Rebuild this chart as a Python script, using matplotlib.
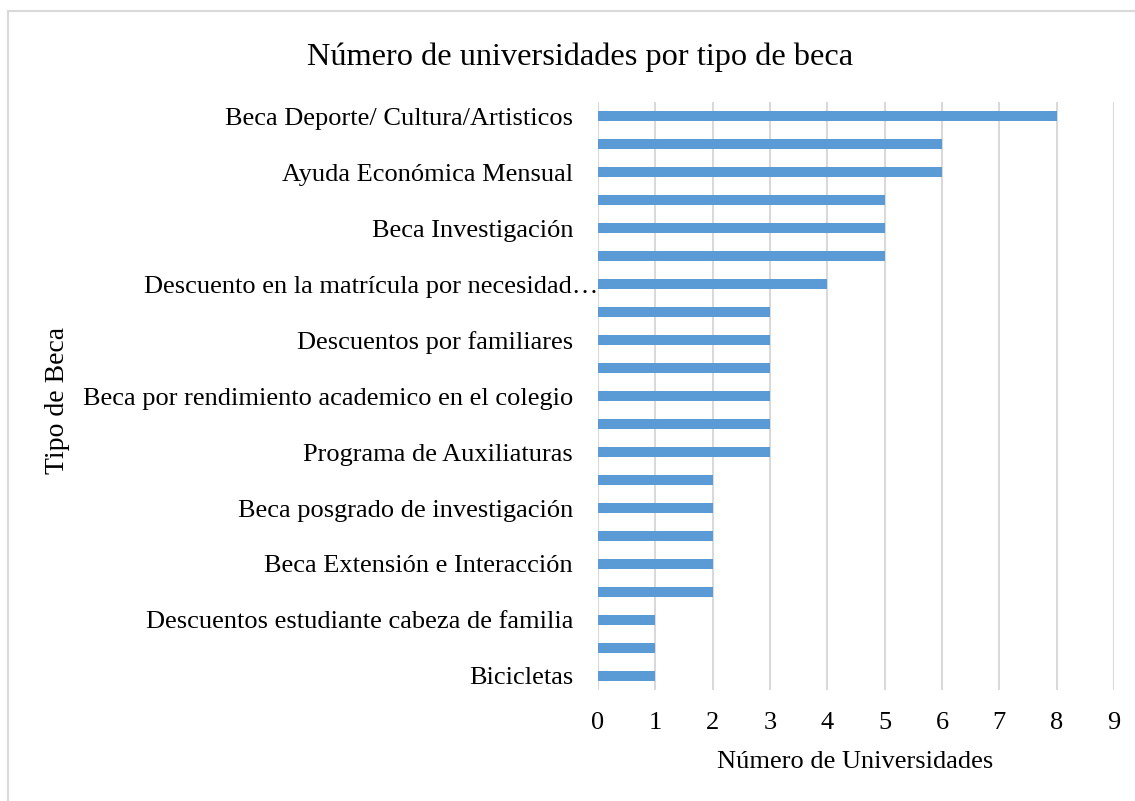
import matplotlib
matplotlib.use("Agg")
import matplotlib.pyplot as plt
from matplotlib.transforms import ScaledTranslation
from matplotlib.lines import Line2D

plt.rcParams["font.family"] = ["Liberation Serif", "DejaVu Serif"]

# Scholarship types, top to bottom (only every other one carries a visible label)
tipos = [
    "Beca Deporte/ Cultura/Artisticos", "",
    "Ayuda Económica Mensual", "",
    "Beca Investigación", "",
    "Descuento en la matrícula por necesidad…", "",
    "Descuentos por familiares", "",
    "Beca por rendimiento academico en el colegio", "",
    "Programa de Auxiliaturas", "",
    "Beca posgrado de investigación", "",
    "Beca Extensión e Interacción", "",
    "Descuentos estudiante cabeza de familia", "",
    "Bicicletas",
]
universidades = [8, 6, 6, 5, 5, 5, 4, 3, 3, 3, 3, 3, 3, 2, 2, 2, 2, 2, 1, 1, 1]
x_ticks = list(range(0, 10))

W, H = 1135, 801
fig = plt.figure(figsize=(W / 100, H / 100), dpi=100)
ax = fig.add_axes([598 / W, 1 - 690 / H, (1114 - 598) / W, (690 - 102) / H])

pos = list(range(len(tipos)))
ax.barh(pos, universidades, height=0.36, color="#5B9BD5", zorder=3)

ax.set_ylim(len(tipos) - 0.5, -0.5)
ax.set_xlim(0, 9)
ax.set_xticks(x_ticks)
ax.set_yticks(pos)
ax.set_yticklabels(tipos)

ax.grid(axis="x", color="#D9D9D9", linewidth=1.5, zorder=0)
ax.grid(axis="y", visible=False)
for s in ax.spines.values():
    s.set_visible(False)
ax.tick_params(axis="both", length=0, labelsize=19)
ax.tick_params(axis="y", pad=18)
ax.tick_params(axis="x", pad=15.5)

# the truncated label runs up to the axis line
for lbl in ax.get_yticklabels():
    if lbl.get_text().endswith("…"):
        lbl.set_transform(lbl.get_transform() + ScaledTranslation(25 / 100, 0, fig.dpi_scale_trans))

fig.text(580 / W, 1 - 57 / H, "Número de universidades por tipo de beca",
         ha="center", va="center", fontsize=23.3)
fig.text(855 / W, 1 - 762 / H, "Número de Universidades",
         ha="center", va="center", fontsize=19)
fig.text(58 / W, 1 - 400 / H, "Tipo de Beca", rotation=90,
         ha="center", va="center", fontsize=20)

# chart frame (left and top edges)
fig.add_artist(Line2D([8 / W, 8 / W], [0, 1 - 11 / H], color="#D9D9D9", linewidth=1.5))
fig.add_artist(Line2D([8 / W, 1], [1 - 11 / H, 1 - 11 / H], color="#D9D9D9", linewidth=1.5))

fig.savefig("out.png", dpi=100, facecolor="white")
